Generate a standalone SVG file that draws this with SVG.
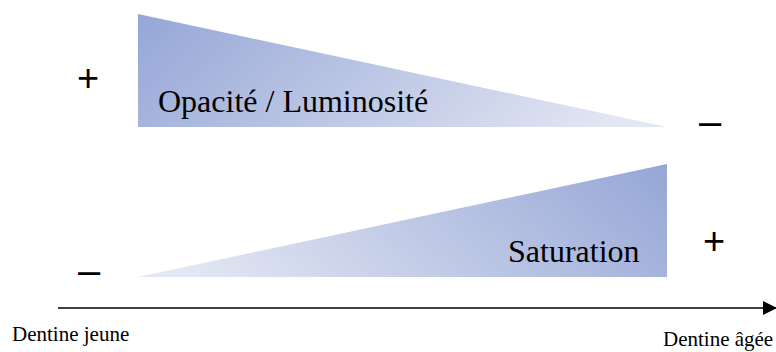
<svg xmlns="http://www.w3.org/2000/svg" width="776" height="352" viewBox="0 0 776 352">
  <defs>
    <linearGradient id="gTop" gradientUnits="userSpaceOnUse" x1="150" y1="0" x2="420" y2="300">
      <stop offset="0" stop-color="#95a6d6"/>
      <stop offset="1" stop-color="#e3e7f3"/>
    </linearGradient>
    <linearGradient id="gBot" gradientUnits="userSpaceOnUse" x1="655" y1="150" x2="385" y2="450">
      <stop offset="0" stop-color="#95a6d6"/>
      <stop offset="1" stop-color="#e3e7f3"/>
    </linearGradient>
    <marker id="arr" markerWidth="14" markerHeight="14" refX="13" refY="7" orient="auto" markerUnits="userSpaceOnUse" viewBox="0 0 14 14">
      <path d="M0,0 L14,7 L0,14 Z" fill="#000"/>
    </marker>
  </defs>

  <g id="opacite">
    <polygon points="138,14 138,127 667,127" fill="url(#gTop)"/>
    <text x="158" y="112" font-family="Liberation Serif, serif" font-size="32" fill="#000">Opacité / Luminosité</text>
  </g>

  <g id="saturation">
    <polygon points="138,277 667,277 667,164" fill="url(#gBot)"/>
    <text x="508" y="262" font-family="Liberation Serif, serif" font-size="32" fill="#000">Saturation</text>
  </g>

  <g id="signs" font-family="Liberation Sans, Arial, sans-serif" fill="#000" text-anchor="middle">
    <text x="88" y="91" font-size="38">+</text>
    <text x="710" y="135" font-size="40">–</text>
    <text x="89" y="284" font-size="40">–</text>
    <text x="714" y="254" font-size="38">+</text>
  </g>

  <g id="connectors">
    <line x1="58" y1="308" x2="776" y2="308" stroke="#000" stroke-width="1.5" marker-end="url(#arr)"/>
  </g>

  <g id="axis-labels" font-family="Liberation Serif, serif" font-size="21" fill="#000">
    <text x="12" y="341">Dentine jeune</text>
    <text x="663" y="346">Dentine âgée</text>
  </g>
</svg>
